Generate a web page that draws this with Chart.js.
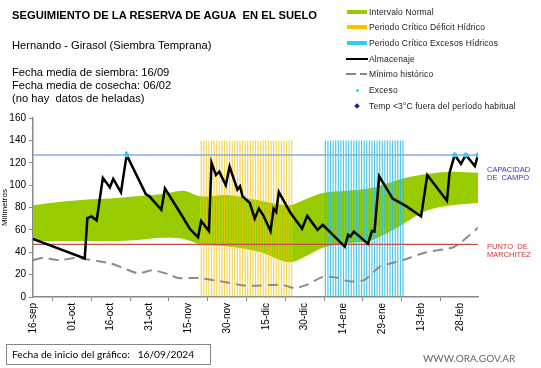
<!DOCTYPE html>
<html>
<head>
<meta charset="utf-8">
<script src="https://cdn.jsdelivr.net/npm/chart.js@4.4.1/dist/chart.umd.min.js"></script>
<style>
  body { margin: 0; background: #fff; font-family: "Liberation Sans", Arial, sans-serif; }
  #wrap { position: relative; width: 541px; height: 368px; overflow: hidden; }
  #grafico { position: absolute; left: 0; top: 0; }
  .t { position: absolute; white-space: nowrap; color: #000; }
  .titulo { left: 12px; top: 9px; font-size: 11.2px; line-height: 12px; font-weight: bold; }
  .info { left: 12px; font-size: 11.2px; line-height: 13px; }
  .ley { left: 369px; font-size: 8.5px; line-height: 10px; color: #222; letter-spacing: 0.15px; }
  .sw { position: absolute; }
  .der { left: 487px; font-size: 7.5px; line-height: 8px; }
  .caja { left: 6px; top: 344px; width: 198px; height: 19px; border: 1px solid #8e7f8e;
          font-family: Lato, "Liberation Sans", sans-serif; font-size: 10.2px; line-height: 19px; padding-left: 5px; }
  .web { left: 423px; top: 352px; font-family: Lato, "Liberation Sans", sans-serif; font-size: 10px; color: #666; }
</style>
</head>
<body>
<div id="wrap">
  <canvas id="grafico" width="541" height="368"></canvas>

  <div class="t titulo">SEGUIMIENTO DE LA RESERVA DE AGUA&nbsp; EN EL SUELO</div>
  <div class="t info" style="top:39px">Hernando - Girasol (Siembra Temprana)</div>
  <div class="t info" style="top:66px">Fecha media de siembra: 16/09</div>
  <div class="t info" style="top:79px">Fecha media de cosecha: 06/02</div>
  <div class="t info" style="top:92px">(no hay&nbsp; datos de heladas)</div>

  <!-- leyenda -->
  <div class="sw" style="left:347px;top:10px;width:20px;height:4px;background:#99cc00"></div>
  <div class="t ley" style="top:7px">Intervalo Normal</div>
  <div class="sw" style="left:347px;top:25px;width:20px;height:4px;background:#ffc000"></div>
  <div class="t ley" style="top:22px">Periodo Crítico Déficit Hídrico</div>
  <div class="sw" style="left:347px;top:41px;width:20px;height:4px;background:#33ccee"></div>
  <div class="t ley" style="top:38px">Periodo Crítico Excesos Hídricos</div>
  <div class="sw" style="left:346px;top:58px;width:22px;height:2px;background:#000"></div>
  <div class="t ley" style="top:54px">Almacenaje</div>
  <div class="sw" style="left:346px;top:73px;width:10px;height:2px;background:#888"></div>
  <div class="sw" style="left:360px;top:73px;width:7px;height:2px;background:#888"></div>
  <div class="t ley" style="top:69px">Mínimo histórico</div>
  <div class="sw" style="left:356px;top:89px;width:3px;height:3px;border-radius:2px;background:#33ccee"></div>
  <div class="t ley" style="top:85px">Exceso</div>
  <div class="sw" style="left:355px;top:104px;width:4px;height:4px;background:#1f1fa8;transform:rotate(45deg)"></div>
  <div class="t ley" style="top:101px">Temp &lt;3°C fuera del período habitual</div>

  <div class="t der" style="top:166px;color:#3838b8">CAPACIDAD<br>DE&nbsp; CAMPO</div>
  <div class="t der" style="top:243px;color:#c83a3a">PUNTO&nbsp; DE<br>MARCHITEZ</div>

  <div class="t caja">Fecha de inicio del gráfico:&nbsp;&nbsp; 16/09/2024</div>
  <div class="t web">WWW.ORA.GOV.AR</div>
</div>

<script>
// dias contados desde el 16-sep (dia 0)
const etiquetasFecha = ['16-sep', '01-oct', '16-oct', '31-oct', '15-nov', '30-nov',
    '15-dic', '30-dic', '14-ene', '29-ene', '13-feb', '28-feb'];
const diaFinal = 172;

// intervalo normal
const bandaDias = [0, 10, 20, 30, 40, 50, 58, 65, 76, 88, 99, 106, 112, 121, 130, 136, 143, 152, 162, 172];
const bandaMin  = [50, 50, 50, 50, 51, 53, 52, 47, 45, 40, 31, 37, 44, 48, 50, 56, 65, 77, 82, 84];
const bandaMax  = [82, 85, 87, 88, 90, 92, 95, 90, 91, 86, 82, 88, 93, 95, 97, 101, 106, 110, 112, 111];

// minimo historico
const minHistDias    = [0, 4, 10, 17, 20, 30, 38, 41, 46, 53, 56, 64, 70, 83, 96, 101, 106, 112, 118, 122, 128, 134, 143, 152, 162, 165, 172];
const minHistValores = [33, 35, 33, 35, 34, 30, 23, 21, 24, 20, 17, 17, 15, 10, 11, 8, 11, 18, 17, 14, 15, 27, 33, 40, 44, 48, 62];

// almacenaje
const almDias = [0, 20, 21, 22.6, 24.6, 27, 29.7, 31, 34, 36.2, 43.6, 45, 49.6, 51, 56.7, 60.6, 63.8,
    65, 68, 69, 70.7, 72, 74.5, 76, 79, 80, 81, 83.8, 85.7, 87.3, 89, 91.8, 93, 94, 95, 99.3,
    104, 106, 110, 112, 120.5, 121.8, 122.7, 124, 129.5, 131, 132, 133.8, 139, 144.4, 150,
    152.4, 160, 161, 163, 165.4, 167.3, 170.8, 172];
const almValores = [52, 34.5, 70.5, 72, 68.5, 106.5, 98, 105.5, 93.5, 127, 92, 90, 78, 97, 76, 61, 53.4,
    68, 59, 120, 109, 112, 100, 116.6, 96, 99, 90, 84, 70, 79, 73, 59, 79, 76, 94, 76,
    61, 72.5, 60, 64.5, 45, 55.5, 54, 58.5, 47.5, 59, 58.5, 108, 88, 81, 72,
    109, 86, 111, 127, 119, 127, 117, 127];

// excesos
const excesoDias    = [36.2, 163, 167.3, 172];
const excesoValores = [127, 127, 127, 127];

// periodos criticos
const deficitDesde = 65, deficitHasta = 100;
const excesosDesde = 113, excesosHasta = 143;
const periodoTope = 140;

const capacidadCampo = 127;
const puntoMarchitez = 47;

const pares = (xs, ys) => xs.map((x, i) => ({ x: x, y: ys[i] }));
const periodo = (desde, hasta) => {
    const out = [];
    for (let d = desde; d <= hasta; d++) out.push({ x: d, y: periodoTope });
    return out;
};

Chart.defaults.font.family = '"Liberation Sans", Arial, sans-serif';
Chart.defaults.color = '#000';

new Chart(document.getElementById('grafico'), {
    type: 'line',
    data: {
        datasets: [
            {
                label: 'Exceso',
                data: pares(excesoDias, excesoValores),
                showLine: false,
                pointRadius: 2.5,
                pointBackgroundColor: '#33ccee',
                pointBorderWidth: 0,
                order: 0
            },
            {
                label: 'Almacenaje',
                data: pares(almDias, almValores),
                borderColor: '#000',
                borderWidth: 2.5,
                pointRadius: 0,
                tension: 0,
                order: 1
            },
            {
                label: 'Capacidad de campo',
                data: pares([0, diaFinal], [capacidadCampo, capacidadCampo]),
                borderColor: '#8eaadb',
                borderWidth: 1.5,
                pointRadius: 0,
                order: 2
            },
            {
                label: 'Punto de marchitez',
                data: pares([0, diaFinal], [puntoMarchitez, puntoMarchitez]),
                borderColor: '#c0504d',
                borderWidth: 1.2,
                pointRadius: 0,
                order: 2
            },
            {
                label: 'Mínimo histórico',
                data: pares(minHistDias, minHistValores),
                borderColor: '#8c8c8c',
                borderWidth: 2,
                borderDash: [10, 6],
                pointRadius: 0,
                tension: 0.2,
                order: 3
            },
            {
                type: 'bar',
                label: 'Periodo Crítico Déficit Hídrico',
                data: periodo(deficitDesde, deficitHasta),
                backgroundColor: 'rgba(240, 200, 20, 0.75)',
                grouped: false,
                categoryPercentage: 1,
                barPercentage: 0.45,
                order: 4
            },
            {
                type: 'bar',
                label: 'Periodo Crítico Excesos Hídricos',
                data: periodo(excesosDesde, excesosHasta),
                backgroundColor: 'rgba(40, 190, 225, 0.85)',
                grouped: false,
                categoryPercentage: 1,
                barPercentage: 0.45,
                order: 4
            },
            {
                label: 'Intervalo min',
                data: pares(bandaDias, bandaMin),
                borderWidth: 0,
                pointRadius: 0,
                tension: 0.35,
                fill: false,
                order: 5
            },
            {
                label: 'Intervalo Normal',
                data: pares(bandaDias, bandaMax),
                borderWidth: 0,
                pointRadius: 0,
                tension: 0.35,
                backgroundColor: '#99cc00',
                fill: '-1',
                order: 5
            }
        ]
    },
    options: {
        responsive: false,
        animation: false,
        devicePixelRatio: 1,
        layout: { padding: { left: 0, right: 63, top: 118, bottom: 26 } },
        plugins: {
            legend: { display: false },
            tooltip: { enabled: false }
        },
        scales: {
            x: {
                type: 'linear',
                min: 0,
                max: diaFinal,
                offset: false,
                grid: { drawOnChartArea: false, drawTicks: true, tickLength: 4, color: '#888' },
                border: { color: '#888', width: 1.5 },
                ticks: {
                    stepSize: 15,
                    autoSkip: false,
                    minRotation: 90,
                    maxRotation: 90,
                    padding: 2,
                    font: { size: 10 },
                    callback: (v) => etiquetasFecha[v / 15]
                },
                afterBuildTicks: (s) => { s.ticks = s.ticks.filter(t => t.value % 15 === 0); },
                afterFit: (s) => { s.height = 45; }
            },
            y: {
                min: 0,
                max: 160,
                grid: { drawOnChartArea: false, drawTicks: true, tickLength: 4, color: '#888' },
                border: { color: '#888', width: 1.5 },
                ticks: { stepSize: 20, padding: 3, font: { size: 10 } },
                title: { display: true, text: 'Milímetros', font: { size: 8 }, padding: 0 },
                afterFit: (s) => { s.width = 33; }
            }
        }
    }
});
</script>
</body>
</html>
